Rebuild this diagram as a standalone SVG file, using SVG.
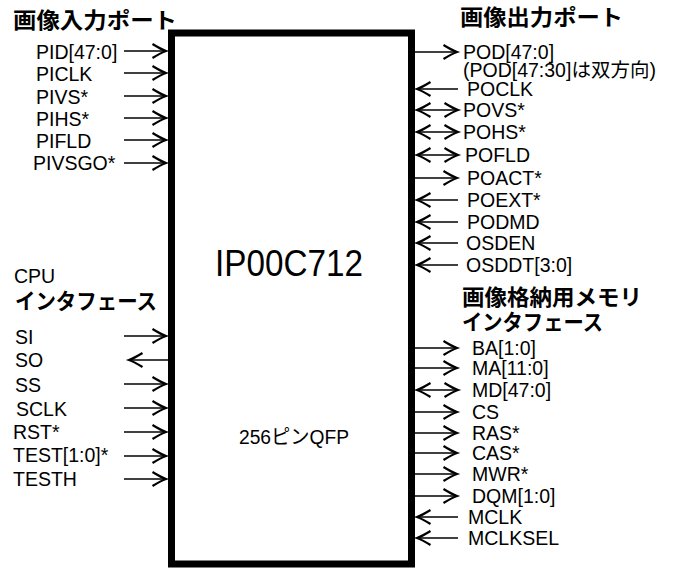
<svg xmlns="http://www.w3.org/2000/svg" width="683" height="568" viewBox="0 0 683 568">
<style>
.lbl{font-family:"Liberation Sans","Noto Sans CJK JP",sans-serif;font-size:19.5px;fill:#000;dominant-baseline:central}
.ttl{font-family:"Noto Sans CJK JP",sans-serif;font-size:22px;font-weight:bold;fill:#000;dominant-baseline:central}
.big{font-family:"Liberation Sans","Noto Sans CJK JP",sans-serif;fill:#000;dominant-baseline:central}
.w{stroke:#000;stroke-width:1.6;fill:none}
.r{marker-end:url(#ah)}
.l{marker-start:url(#ah)}
.b{marker-start:url(#ah);marker-end:url(#ah)}
</style>
<defs>
<marker id="ah" viewBox="-16 -10 18 20" refX="0" refY="0" markerWidth="18" markerHeight="20" markerUnits="userSpaceOnUse" orient="auto-start-reverse" overflow="visible">
<path d="M-13.5,-7 Q-5,-1.8 0,0 Q-5,1.8 -13.5,7" fill="none" stroke="#000" stroke-width="2.2" stroke-linejoin="miter" stroke-miterlimit="10"/>
</marker>
</defs>
<rect width="683" height="568" fill="#fff"/>
<g id="chip">
<rect x="171.5" y="33" width="240" height="531" fill="#fff" stroke="#000" stroke-width="7"/>
<text class="big" x="215" y="263" font-size="36" textLength="148" lengthAdjust="spacingAndGlyphs">IP00C712</text>
<text class="big" x="239" y="437" font-size="20" textLength="110" lengthAdjust="spacingAndGlyphs">256ピンQFP</text>
</g>
<g id="titles">
<text class="ttl" x="13" y="17.5" textLength="164" lengthAdjust="spacingAndGlyphs">画像入力ポート</text>
<text class="ttl" x="460" y="15" textLength="163" lengthAdjust="spacingAndGlyphs">画像出力ポート</text>
<text class="lbl" x="14" y="276">CPU</text>
<text class="ttl" x="15" y="299" textLength="142" lengthAdjust="spacingAndGlyphs">インタフェース</text>
<text class="ttl" x="462" y="295" textLength="180" lengthAdjust="spacingAndGlyphs">画像格納用メモリ</text>
<text class="ttl" x="462" y="320" textLength="141" lengthAdjust="spacingAndGlyphs">インタフェース</text>
</g>
<g id="connectors">
<line class="w r" x1="124" y1="51" x2="166" y2="51"/>
<line class="w r" x1="124" y1="73" x2="166" y2="73"/>
<line class="w r" x1="124" y1="96" x2="166" y2="96"/>
<line class="w r" x1="124" y1="118" x2="166" y2="118"/>
<line class="w r" x1="124" y1="140" x2="166" y2="140"/>
<line class="w r" x1="124" y1="163" x2="166" y2="163"/>
<line class="w r" x1="124" y1="336" x2="166" y2="336"/>
<line class="w l" x1="129" y1="360" x2="168" y2="360"/>
<line class="w r" x1="124" y1="384" x2="166" y2="384"/>
<line class="w r" x1="124" y1="408" x2="166" y2="408"/>
<line class="w r" x1="124" y1="432" x2="166" y2="432"/>
<line class="w r" x1="124" y1="456" x2="166" y2="456"/>
<line class="w r" x1="124" y1="479" x2="166" y2="479"/>
<line class="w r" x1="415" y1="52" x2="457" y2="52"/>
<line class="w l" x1="417" y1="89" x2="458" y2="89"/>
<line class="w b" x1="417" y1="110" x2="458" y2="110"/>
<line class="w b" x1="417" y1="132" x2="458" y2="132"/>
<line class="w b" x1="417" y1="155" x2="458" y2="155"/>
<line class="w r" x1="415" y1="178" x2="457" y2="178"/>
<line class="w l" x1="417" y1="200" x2="458" y2="200"/>
<line class="w l" x1="417" y1="222" x2="458" y2="222"/>
<line class="w l" x1="417" y1="243" x2="458" y2="243"/>
<line class="w l" x1="417" y1="265" x2="458" y2="265"/>
<line class="w r" x1="415" y1="348" x2="457" y2="348"/>
<line class="w r" x1="415" y1="368" x2="457" y2="368"/>
<line class="w b" x1="417" y1="390" x2="458" y2="390"/>
<line class="w r" x1="415" y1="412" x2="457" y2="412"/>
<line class="w r" x1="415" y1="433" x2="457" y2="433"/>
<line class="w r" x1="415" y1="453" x2="457" y2="453"/>
<line class="w r" x1="415" y1="474" x2="457" y2="474"/>
<line class="w r" x1="415" y1="496" x2="457" y2="496"/>
<line class="w l" x1="417" y1="517" x2="458" y2="517"/>
<line class="w l" x1="417" y1="538" x2="458" y2="538"/>
</g>
<g id="pins-left">
<text class="lbl" x="36" y="52">PID[47:0]</text>
<text class="lbl" x="36" y="74">PICLK</text>
<text class="lbl" x="36" y="97">PIVS*</text>
<text class="lbl" x="36" y="119">PIHS*</text>
<text class="lbl" x="36" y="141">PIFLD</text>
<text class="lbl" x="33" y="163">PIVSGO*</text>
<text class="lbl" x="15" y="337">SI</text>
<text class="lbl" x="15" y="360">SO</text>
<text class="lbl" x="15" y="385">SS</text>
<text class="lbl" x="16" y="409">SCLK</text>
<text class="lbl" x="13" y="432">RST*</text>
<text class="lbl" x="13" y="455">TEST[1:0]*</text>
<text class="lbl" x="13" y="479">TESTH</text>
</g>
<g id="pins-right">
<text class="lbl" x="463" y="52">POD[47:0]</text>
<text class="lbl" x="463" y="70">(POD[47:30]は双方向)</text>
<text class="lbl" x="467" y="89">POCLK</text>
<text class="lbl" x="463" y="110">POVS*</text>
<text class="lbl" x="463" y="132">POHS*</text>
<text class="lbl" x="465" y="155">POFLD</text>
<text class="lbl" x="467" y="178">POACT*</text>
<text class="lbl" x="467" y="200">POEXT*</text>
<text class="lbl" x="467" y="222">PODMD</text>
<text class="lbl" x="466" y="243">OSDEN</text>
<text class="lbl" x="466" y="265">OSDDT[3:0]</text>
<text class="lbl" x="472" y="348">BA[1:0]</text>
<text class="lbl" x="472" y="368">MA[11:0]</text>
<text class="lbl" x="472" y="390">MD[47:0]</text>
<text class="lbl" x="472" y="412">CS</text>
<text class="lbl" x="472" y="433">RAS*</text>
<text class="lbl" x="472" y="453">CAS*</text>
<text class="lbl" x="472" y="474">MWR*</text>
<text class="lbl" x="472" y="496">DQM[1:0]</text>
<text class="lbl" x="468" y="517">MCLK</text>
<text class="lbl" x="468" y="538">MCLKSEL</text>
</g>
</svg>
